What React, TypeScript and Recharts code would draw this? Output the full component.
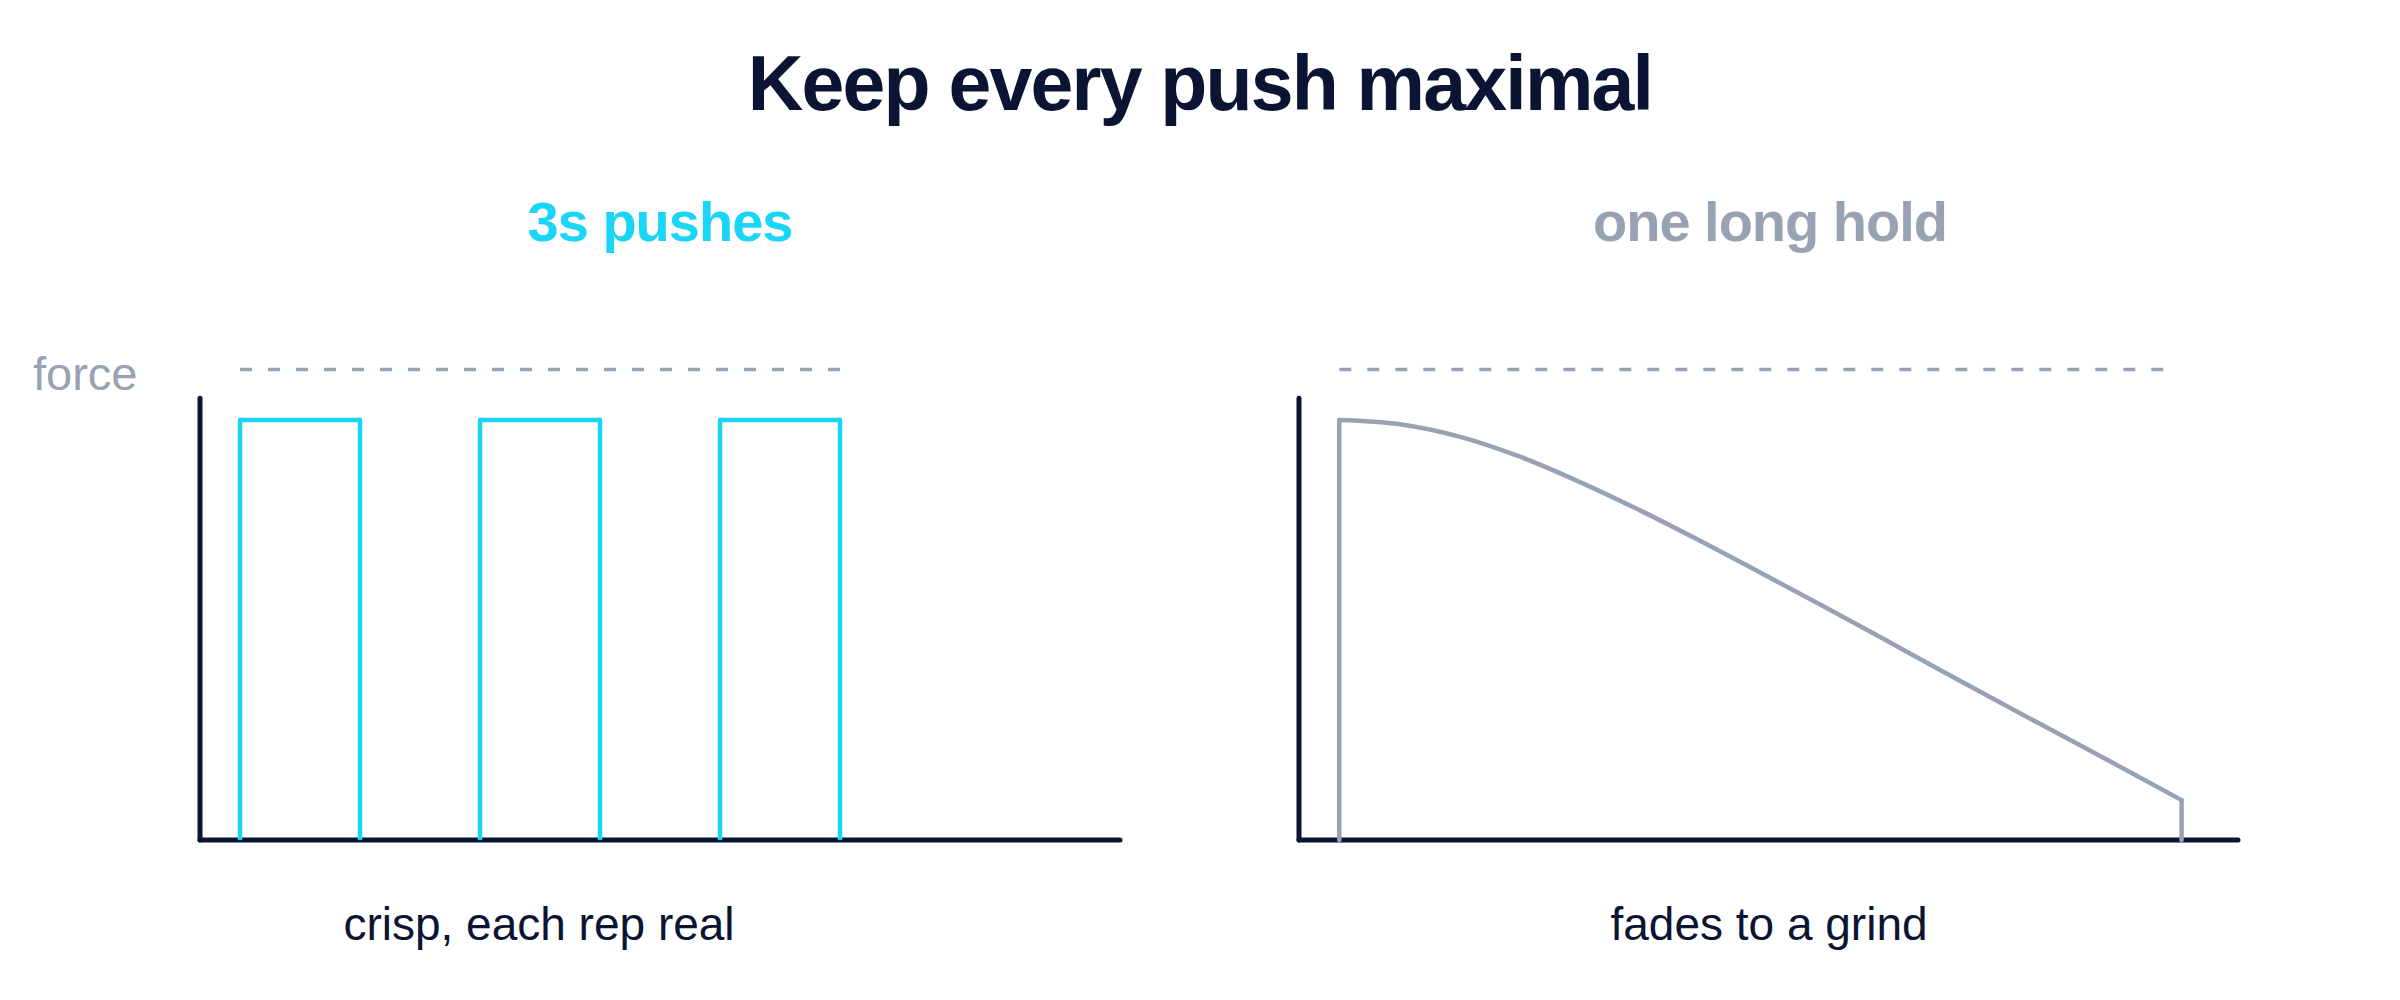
import React from 'react';
import { LineChart, Line, XAxis, YAxis, ReferenceLine } from 'recharts';

const NAVY = '#0b1433';
const CYAN = '#1ad6f6';
const GREY = '#98a2b3';
const FONT = '"Liberation Sans", Arial, Helvetica, sans-serif';

// left panel: three 3s pushes (time in s, force as share of max)
const pushStarts = [1, 7, 13];
const pushEnds = [4, 10, 16];
const pushForce = [1, 1, 1];

// right panel: one long hold
const holdTime = [1, 2.5, 4, 5.5, 7, 8.5, 10, 11.5, 13, 14.5, 16, 17.5, 19, 20.5, 21.9];
const holdForce = [1, 0.99, 0.96, 0.912, 0.851, 0.783, 0.71, 0.634, 0.557, 0.479, 0.4, 0.322, 0.245, 0.168, 0.095];

const maxForceLine = 1.12;
const axisTop = 1.052;

type Row = { t: number; f?: number | null; rise?: number; drop?: number };

const pushData: Row[] = pushStarts.flatMap((s, i) => [
  { t: s, f: 0 },
  { t: s, f: pushForce[i] },
  { t: pushEnds[i], f: pushForce[i] },
  { t: pushEnds[i], f: 0 },
  { t: pushEnds[i] + 1.5, f: null },
]);

// curve in "f", the vertical start/end edges in their own keys so the curve can be smooth
const last = holdTime.length - 1;
const holdData: Row[] = [
  { t: holdTime[0], rise: 0 },
  ...holdTime.map((t, i) => {
    const row: Row = { t, f: holdForce[i] };
    if (i === 0) row.rise = holdForce[0];
    if (i === last) row.drop = holdForce[last];
    return row;
  }),
  { t: holdTime[last], drop: 0 },
];

type PanelProps = {
  data: Row[];
  color: string;
  xMax: number;
  plotLeft: number;
  plotWidth: number;
  dashEnd: number;
  smooth?: boolean;
};

const Panel = ({ data, color, xMax, plotLeft, plotWidth, dashEnd, smooth }: PanelProps) => (
  <LineChart
    width={1200}
    height={1000}
    data={data}
    margin={{ top: 336, right: 1200 - plotLeft - plotWidth, bottom: 160, left: plotLeft }}
  >
    <XAxis type="number" dataKey="t" domain={[0, xMax]} hide />
    <YAxis type="number" domain={[0, 1.2]} hide />
    <ReferenceLine
      segment={[{ x: 0, y: 0 }, { x: 0, y: axisTop }]}
      stroke={NAVY}
      strokeWidth={5}
      strokeLinecap="round"
    />
    <ReferenceLine
      segment={[{ x: 0, y: 0 }, { x: xMax, y: 0 }]}
      stroke={NAVY}
      strokeWidth={5}
      strokeLinecap="round"
    />
    <ReferenceLine
      segment={[{ x: 1, y: maxForceLine }, { x: dashEnd, y: maxForceLine }]}
      stroke={GREY}
      strokeWidth={3.5}
      strokeDasharray="12 16"
    />
    {smooth && (
      <Line dataKey="rise" type="linear" stroke={color} strokeWidth={4.5} strokeLinecap="round" dot={false} activeDot={false} connectNulls={false} isAnimationActive={false} />
    )}
    {smooth && (
      <Line dataKey="drop" type="linear" stroke={color} strokeWidth={4.5} strokeLinecap="round" dot={false} activeDot={false} connectNulls={false} isAnimationActive={false} />
    )}
    <Line
      dataKey="f"
      type={smooth ? 'monotone' : 'linear'}
      stroke={color}
      strokeWidth={4.5}
      strokeLinejoin="round"
      strokeLinecap={smooth ? 'round' : 'butt'}
      dot={false}
      activeDot={false}
      connectNulls={!!smooth}
      isAnimationActive={false}
    />
  </LineChart>
);

export default function App() {
  return (
    <div style={{ position: 'absolute', left: 0, top: 0, width: 2400, height: 1000, background: '#fff' }}>
      <div style={{ position: 'absolute', left: 0, top: 0 }}>
        <Panel data={pushData} color={CYAN} xMax={23} plotLeft={200} plotWidth={920} dashEnd={16} />
      </div>
      <div style={{ position: 'absolute', left: 1200, top: 0 }}>
        <Panel data={holdData} color={GREY} xMax={23.3} plotLeft={99} plotWidth={939} dashEnd={21.46} smooth />
      </div>
      <svg
        width={2400}
        height={1000}
        style={{ position: 'absolute', left: 0, top: 0, pointerEvents: 'none' }}
        fontFamily={FONT}
      >
        <text x={1200} y={110} textAnchor="middle" fontSize={77} fontWeight={700} letterSpacing={-1.8} fill={NAVY}>
          Keep every push maximal
        </text>
        <text x={660} y={241} textAnchor="middle" fontSize={56} fontWeight={700} letterSpacing={-1} fill={CYAN}>
          3s pushes
        </text>
        <text x={1770} y={241} textAnchor="middle" fontSize={56} fontWeight={700} letterSpacing={-1} fill={GREY}>
          one long hold
        </text>
        <text x={33} y={390} fontSize={47} fill={GREY}>
          force
        </text>
        <text x={539} y={940} textAnchor="middle" fontSize={46} fill={NAVY}>
          crisp, each rep real
        </text>
        <text x={1769} y={940} textAnchor="middle" fontSize={46} fill={NAVY}>
          fades to a grind
        </text>
      </svg>
    </div>
  );
}
